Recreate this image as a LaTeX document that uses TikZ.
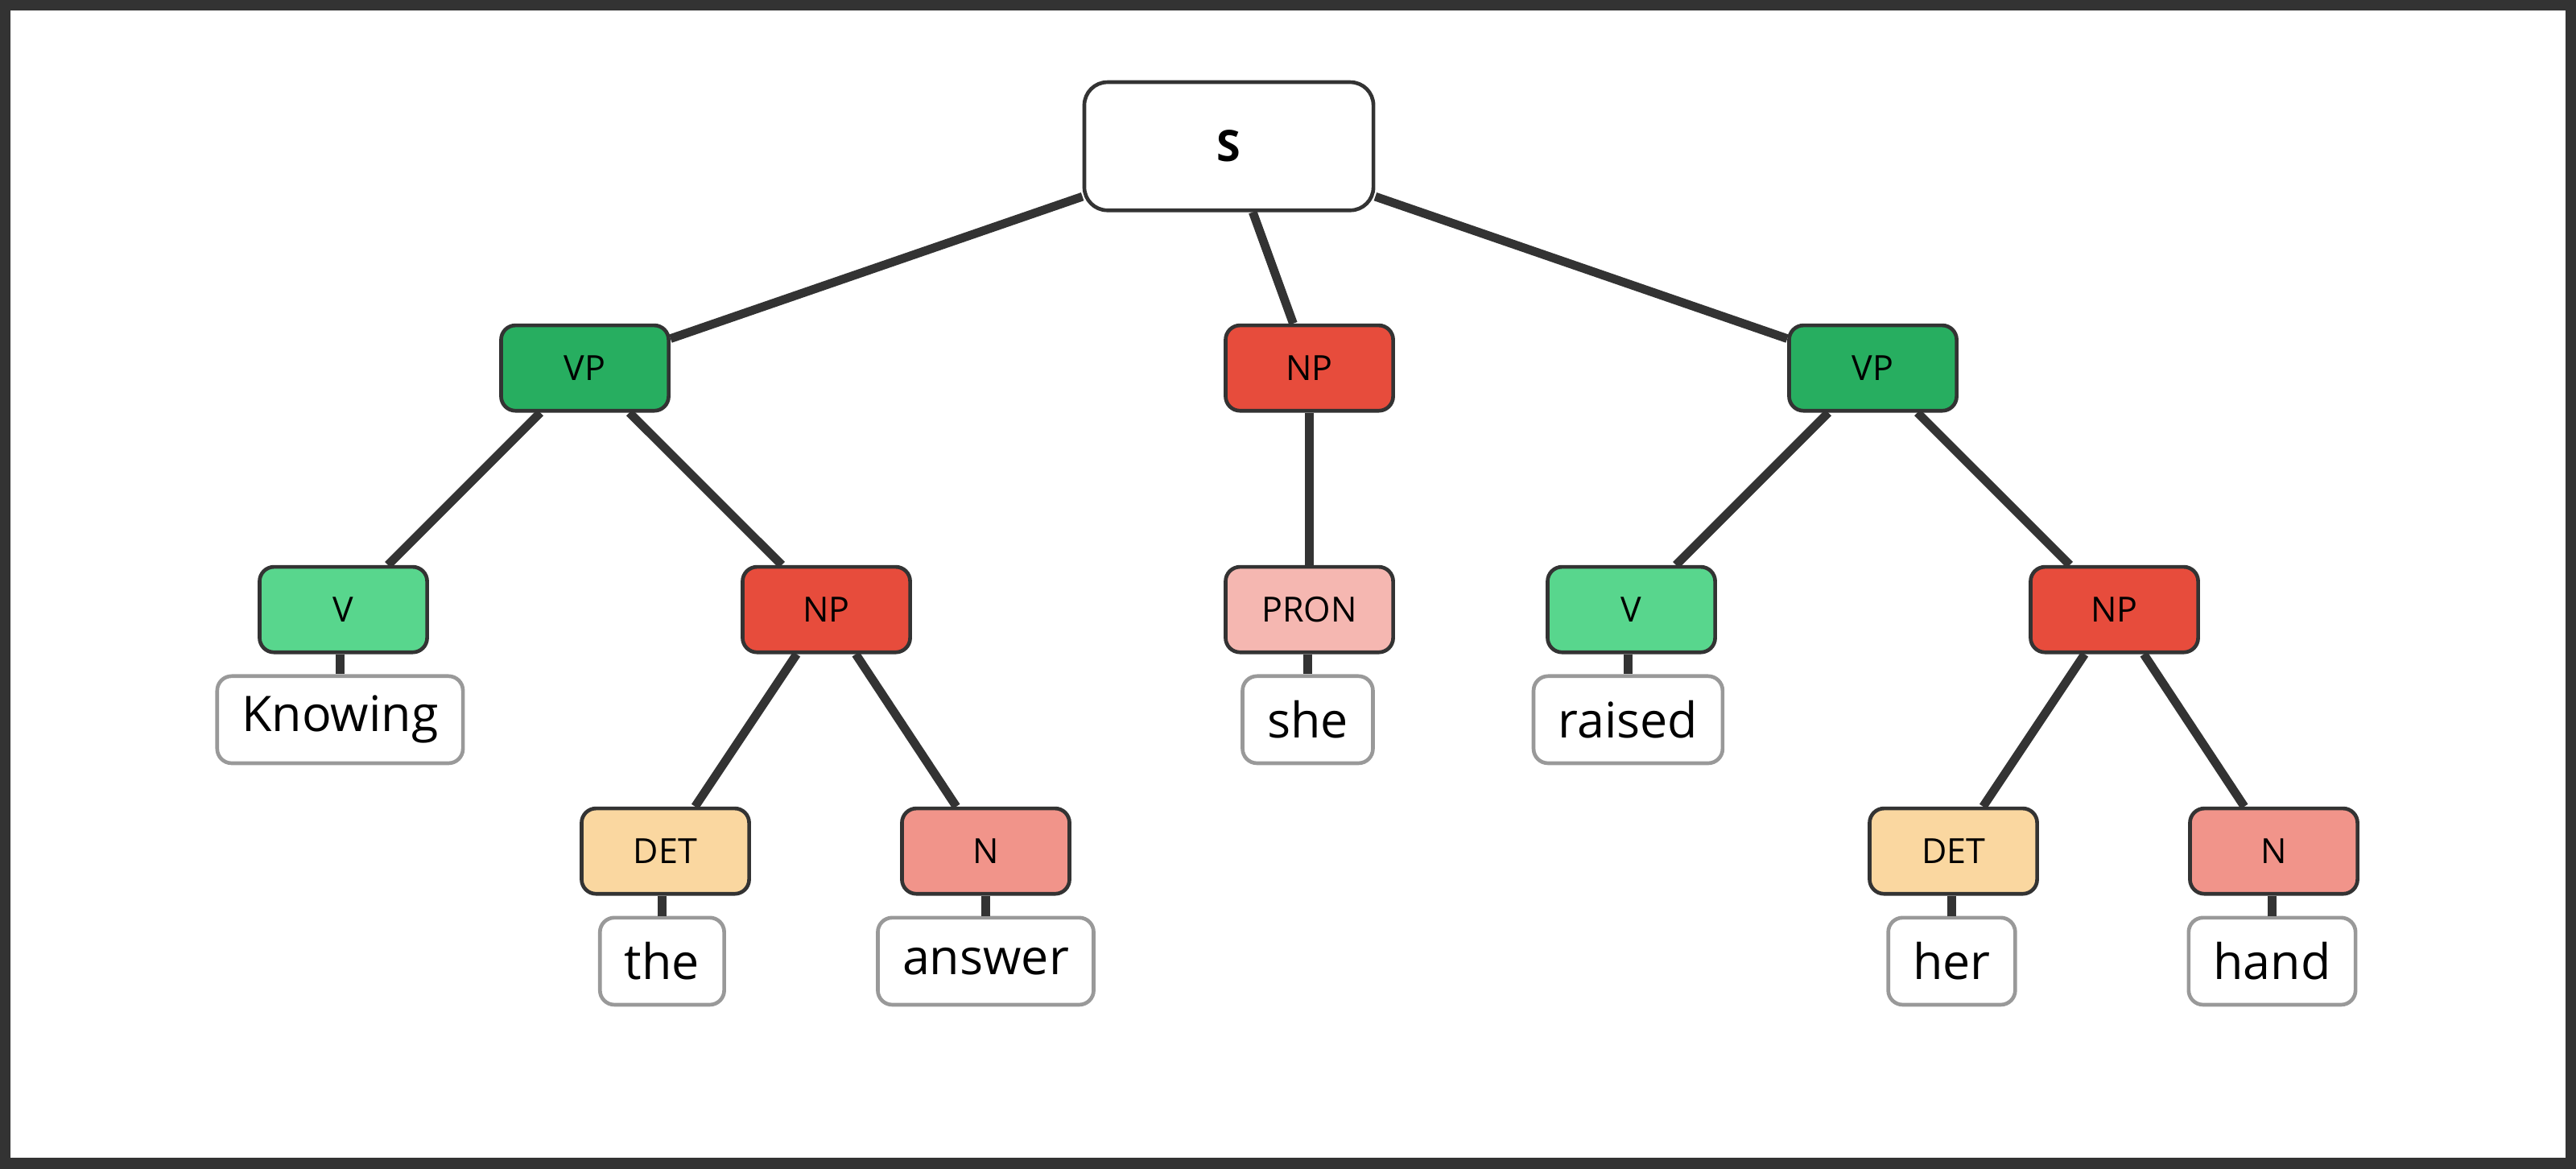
\documentclass[tikz,border=0pt]{standalone}
\usepackage{fontspec}
\setmainfont{Open Sans}
\definecolor{vpgreen}{HTML}{27AE60}
\definecolor{vgreen}{HTML}{58D68D}
\definecolor{npred}{HTML}{E74C3C}
\definecolor{pronpink}{HTML}{F5B7B1}
\definecolor{detor}{HTML}{FAD7A0}
\definecolor{nred}{HTML}{F1948A}
\definecolor{edgegray}{HTML}{333333}
\tikzset{
  cat/.style={draw=edgegray, line width=1.3pt, rounded corners=5pt, minimum width=2.04cm, minimum height=1.04cm, font=\fontsize{12}{14}\selectfont},
  word/.style={draw=black!40, fill=white, line width=1.3pt, rounded corners=5pt, minimum height=1.06cm, inner xsep=0.3cm, font=\fontsize{17}{20}\selectfont},
  branch/.style={draw=edgegray, line width=3pt},
}
\begin{document}
\begin{tikzpicture}[x=0.02cm,y=-0.02cm]
\useasboundingbox (0,0) rectangle (1568,711);
\draw[edgegray, line width=4pt] (3,3) rectangle (1565,708);
% tree nodes
\node[cat, fill=white, minimum width=3.52cm, minimum height=1.56cm, rounded corners=8pt, font=\fontsize{15}{18}\selectfont\bfseries] (s) at (748,89) {S};
\node[cat, fill=vpgreen] (vp1) at (356,224) {VP};
\node[cat, fill=npred] (np0) at (797,224) {NP};
\node[cat, fill=vpgreen] (vp2) at (1140,224) {VP};
\node[cat, fill=vgreen] (v1) at (209,371) {V};
\node[cat, fill=npred] (np1) at (503,371) {NP};
\node[cat, fill=pronpink] (pron) at (797,371) {PRON};
\node[cat, fill=vgreen] (v2) at (993,371) {V};
\node[cat, fill=npred] (np2) at (1287,371) {NP};
\node[cat, fill=detor] (det1) at (405,518) {DET};
\node[cat, fill=nred] (n1) at (600,518) {N};
\node[cat, fill=detor] (det2) at (1189,518) {DET};
\node[cat, fill=nred] (n2) at (1384,518) {N};
% words
\node[word] (w1) at (207,438) {Knowing};
\node[word] (w2) at (796,438) {she};
\node[word] (w3) at (991,438) {raised};
\node[word] (w4) at (403,585) {the};
\node[word] (w5) at (600,585) {answer};
\node[word] (w6) at (1188,585) {her};
\node[word] (w7) at (1383,585) {hand};
% branches
\begin{scope}[on background layer/.try]
\path[branch] (s) -- (vp1);
\path[branch] (s) -- (np0);
\path[branch] (s) -- (vp2);
\path[branch] (vp1) -- (v1);
\path[branch] (vp1) -- (np1);
\path[branch] (np0) -- (pron);
\path[branch] (vp2) -- (v2);
\path[branch] (vp2) -- (np2);
\path[branch] (np1) -- (det1);
\path[branch] (np1) -- (n1);
\path[branch] (np2) -- (det2);
\path[branch] (np2) -- (n2);
\path[branch] (v1.south -| w1.north) -- (w1.north);
\path[branch] (pron.south -| w2.north) -- (w2.north);
\path[branch] (v2.south -| w3.north) -- (w3.north);
\path[branch] (det1.south -| w4.north) -- (w4.north);
\path[branch] (n1.south) -- (w5.north);
\path[branch] (det2.south -| w6.north) -- (w6.north);
\path[branch] (n2.south -| w7.north) -- (w7.north);
\end{scope}
\end{tikzpicture}
\end{document}
